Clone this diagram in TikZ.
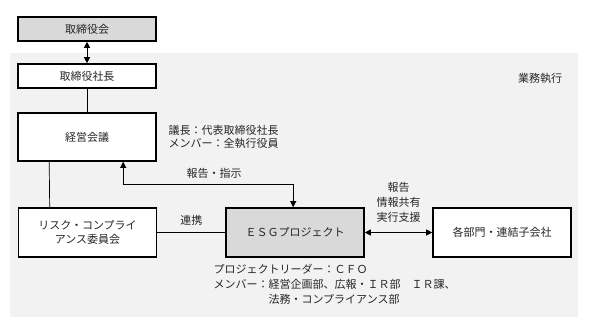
\documentclass[tikz,border=0pt]{standalone}
\usepackage{fontspec}
\setmainfont{Noto Sans CJK JP}
\usetikzlibrary{arrows.meta}
\definecolor{OrgPanel}{HTML}{F2F2F2}
\definecolor{OrgGray}{HTML}{D9D9D9}
\definecolor{OrgInk}{HTML}{262626}

\begin{document}
\begin{tikzpicture}[x=1pt,y=-1pt,font=\fontsize{11}{13.5}\selectfont,text=OrgInk,
  orgbox/.style={draw=black,line width=1.6pt,minimum width=138pt,inner sep=0pt,align=center},
  link/.style={line width=.7pt,>={Triangle[length=6pt,width=6pt]}}]
\useasboundingbox (0,0) rectangle (600,330);
\fill[OrgPanel] (10,53) rectangle (578,317);
% boxes
\node[orgbox,fill=OrgGray,minimum height=24pt] (board) at (87,29) {取締役会};
\node[orgbox,fill=white,minimum height=24pt] (pres) at (87,76) {取締役社長};
\node[orgbox,fill=white,minimum height=48pt] (mtg) at (87,137) {経営会議};
\node[orgbox,fill=white,minimum height=49pt] (risk) at (87.5,232.5) {リスク・コンプライ\\アンス委員会};
\node[orgbox,fill=OrgGray,minimum height=49pt] (esg) at (295,232.5) {ＥＳＧプロジェクト};
\node[orgbox,fill=white,minimum height=49pt] (dept) at (502,232.5) {各部門・連結子会社};
% texts
\node (exec) at (540,78) {業務執行};
\node[anchor=west,align=left] (chair) at (165,137) {議長：代表取締役社長\\メンバー：全執行役員};
\node[anchor=north west,align=left,font=\fontsize{11}{15}\selectfont] (leader) at (210,261)
  {プロジェクトリーダー：ＣＦＯ\\メンバー：経営企画部、広報・ＩＲ部　ＩＲ課、\\\phantom{メンバー：}法務・コンプライアンス部};
\node (rptlbl) at (214,173) {報告・指示};
% connectors
\draw[link,<->] (board) -- (pres);
\draw[link] (pres) -- (mtg);
\draw[link] ([xshift=32pt]mtg.south west) -- ([xshift=32pt]risk.north west);
\draw[link,<->] ([xshift=106pt]mtg.south west) -- ++(0,23) -| ([xshift=68pt]esg.north west);
\draw[link] (risk) -- node[above=3pt] {連携} (esg);
\draw[link,<->] (esg) -- node[above=6pt,align=center,font=\fontsize{11}{15}\selectfont] {報告\\情報共有\\実行支援} (dept);
\end{tikzpicture}
\end{document}
